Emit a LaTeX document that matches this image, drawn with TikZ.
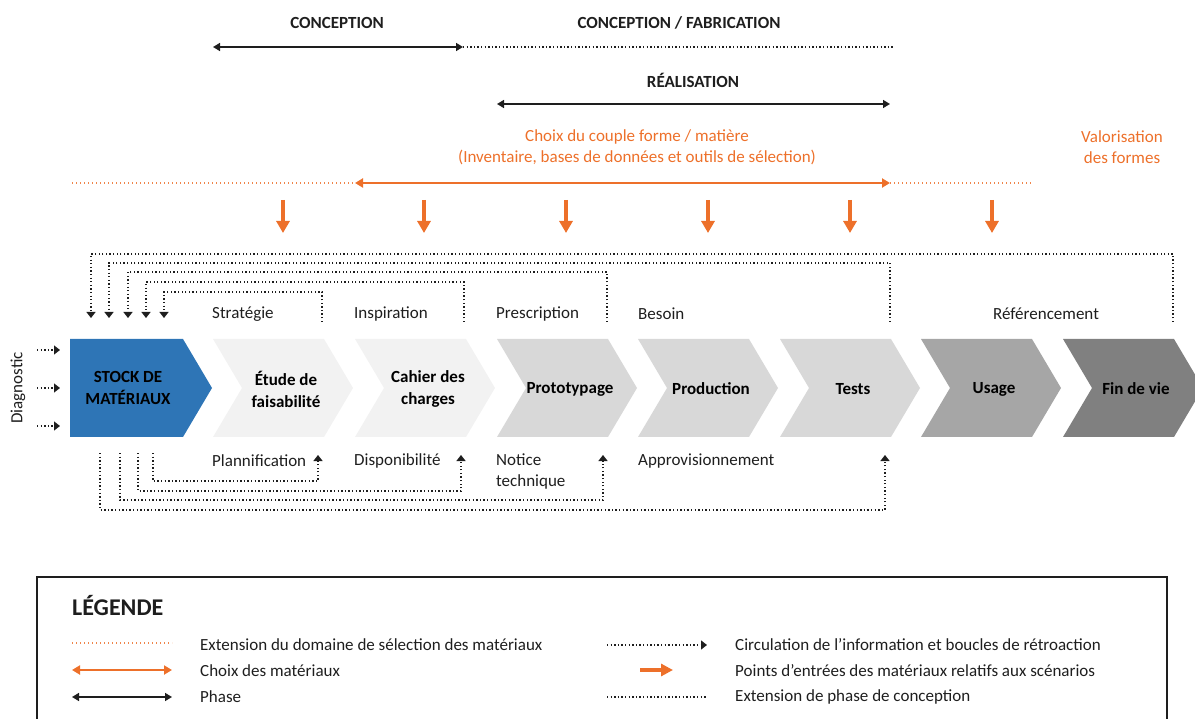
\documentclass[tikz,border=0pt]{standalone}
\usepackage{fontspec}
\setmainfont{Carlito}
\usetikzlibrary{arrows.meta}
\definecolor{bleustock}{RGB}{46,117,182}
\definecolor{orangemat}{RGB}{237,112,42}
\definecolor{gris1}{RGB}{242,242,242}
\definecolor{gris2}{RGB}{216,216,216}
\definecolor{gris3}{RGB}{166,166,166}
\definecolor{gris4}{RGB}{128,128,128}
\definecolor{texte}{RGB}{30,30,30}

\tikzset{
  boucle/.style={texte, line width=1.3pt, dash pattern=on 1.3pt off 2.3pt, -{Triangle[width=9pt,length=6pt]}},
  extension/.style={texte, line width=1.3pt, dash pattern=on 1.3pt off 2.3pt},
  extorange/.style={orangemat!85, line width=1.2pt, dash pattern=on 1.2pt off 2.8pt},
  phase/.style={texte, line width=1.6pt, {Triangle[width=8pt,length=7pt]}-{Triangle[width=8pt,length=7pt]}},
  choix/.style={orangemat, line width=2pt, {Triangle[width=9pt,length=8pt]}-{Triangle[width=9pt,length=8pt]}},
  entree/.style={orangemat, line width=4pt, -{Triangle[width=13pt,length=12pt]}},
  etiquette/.style={anchor=west, text=texte, align=left},
  titre/.style={font=\fontsize{17}{21}\selectfont\bfseries, text=texte},
  etape/.style={font=\fontsize{17}{22}\selectfont\bfseries, text=black, align=center}
}

\begin{document}
\begin{tikzpicture}[x=1pt, y=-1pt, every node/.style={inner sep=0pt, font=\fontsize{17}{21}\selectfont}]
\useasboundingbox (0,0) rectangle (1195,719);
\clip (0,0) rectangle (1195,719);

% phases
\node[titre] (conception) at (337,23) {CONCEPTION};
\node[titre] (fabrication) at (679,23) {CONCEPTION / FABRICATION};
\coordinate (c1) at (213,47);
\coordinate (c2) at (463,47);
\coordinate (c3) at (893,47);
\draw[phase] (c1) -- (c2);
\draw[extension] (c2) -- (c3);
\node[titre] (realisation) at (693,80) {RÉALISATION};
\coordinate (r1) at (497,104);
\coordinate (r2) at (890,104);
\draw[phase] (r1) -- (r2);

% choix des materiaux
\node[text=orangemat, align=center] (couple) at (637,147) {Choix du couple forme / matière\\(Inventaire, bases de données et outils de sélection)};
\node[text=orangemat, align=center] (valorisation) at (1122,147) {Valorisation\\des formes};
\coordinate (o1) at (72,183);
\coordinate (o2) at (355,183);
\coordinate (o3) at (890,183);
\coordinate (o4) at (1033,183);
\draw[extorange] (o1) -- (o2);
\draw[choix] (o2) -- (o3);
\draw[extorange] (o3) -- (o4);
\foreach \x in {283,424,566,708,850,992}{
  \coordinate (ea\x) at (\x,200);
  \coordinate (eb\x) at (\x,233);
  \draw[entree] (ea\x) -- (eb\x);
}

% etapes
\fill[bleustock] (70,339) -- (183,339) -- (212,388) -- (183,437) -- (70,437) -- cycle;
\node[etape, text=black] (stock) at (128,388) {STOCK DE\\MATÉRIAUX};
\foreach \xa/\teinte/\nom/\txt in {213/gris1/etude/{Étude de\\faisabilité}, 355/gris1/cahier/{Cahier des\\charges}, 497/gris2/proto/Prototypage, 638/gris2/prod/Production, 780/gris2/tests/Tests, 921/gris3/usage/Usage, 1063/gris4/fin/Fin de vie}{
  \fill[\teinte] (\xa,339) -- ++(111,0) -- ++(29,49) -- ++(-29,49) -- ++(-111,0) -- ++(29,-49) -- cycle;
  \node[etape] (\nom) at (\xa+73,389) {\txt};
}

% diagnostic
\node[rotate=90, text=texte] (diagnostic) at (18,388) {Diagnostic};
\foreach \y in {350,388,426}{
  \coordinate (da\y) at (37,\y);
  \coordinate (db\y) at (60,\y);
  \draw[boucle] (da\y) -- (db\y);
}

% libelles
\node[etiquette] (strategie) at (212,314) {Stratégie};
\node[etiquette] (inspiration) at (354,314) {Inspiration};
\node[etiquette] (prescription) at (496,314) {Prescription};
\node[etiquette] (besoin) at (638,314) {Besoin};
\node[etiquette] (referencement) at (993,314) {Référencement};
\node[etiquette] (plannification) at (212,461) {Plannification};
\node[etiquette] (disponibilite) at (354,461) {Disponibilité};
\node[etiquette] (notice) at (496,471) {Notice\\technique};
\node[etiquette] (appro) at (638,461) {Approvisionnement};

% boucles de retroaction
\foreach \n/\xg/\yh/\xd in {1/91/254/1173, 2/109/263/890, 3/128/272/607, 4/146/282/464, 5/164/292/322}{
  \coordinate (hd\n) at (\xd,322);
  \coordinate (hg\n) at (\xg,318);
  \draw[boucle] (hd\n) |- (\xg,\yh) -- (hg\n);
}
\foreach \n/\xg/\yb/\xd in {1/100/510/885, 2/120/500/603, 3/138/491/461, 4/153/481/318}{
  \coordinate (bg\n) at (\xg,453);
  \coordinate (bd\n) at (\xd,455);
  \draw[boucle] (bg\n) |- (\xd,\yb) -- (bd\n);
}

% legende
\draw[texte, line width=1.3pt] (37,740) -- (37,577) -- (1167,577) -- (1167,740);
\node[anchor=west, text=texte, font=\fontsize{24}{28}\selectfont\bfseries] (legende) at (72,606) {LÉGENDE};
\coordinate (l1a) at (72,643);
\coordinate (l1b) at (172,643);
\draw[extorange] (l1a) -- (l1b);
\node[etiquette] (lt1) at (200,645) {Extension du domaine de sélection des matériaux};
\coordinate (l2a) at (72,670);
\coordinate (l2b) at (172,670);
\draw[choix] (l2a) -- (l2b);
\node[etiquette] (lt2) at (200,671) {Choix des matériaux};
\coordinate (l3a) at (72,697);
\coordinate (l3b) at (172,697);
\draw[phase] (l3a) -- (l3b);
\node[etiquette] (lt3) at (200,697) {Phase};
\coordinate (l4a) at (607,645);
\coordinate (l4b) at (707,645);
\draw[boucle] (l4a) -- (l4b);
\node[etiquette] (lt4) at (735,645) {Circulation de l’information et boucles de rétroaction};
\coordinate (l5a) at (640,670);
\coordinate (l5b) at (673,670);
\draw[entree, -{Triangle[width=12pt,length=12pt]}] (l5a) -- (l5b);
\node[etiquette] (lt5) at (735,671) {Points d’entrées des matériaux relatifs aux scénarios};
\coordinate (l6a) at (607,697);
\coordinate (l6b) at (707,697);
\draw[extension] (l6a) -- (l6b);
\node[etiquette] (lt6) at (735,697) {Extension de phase de conception};

\end{tikzpicture}
\end{document}
